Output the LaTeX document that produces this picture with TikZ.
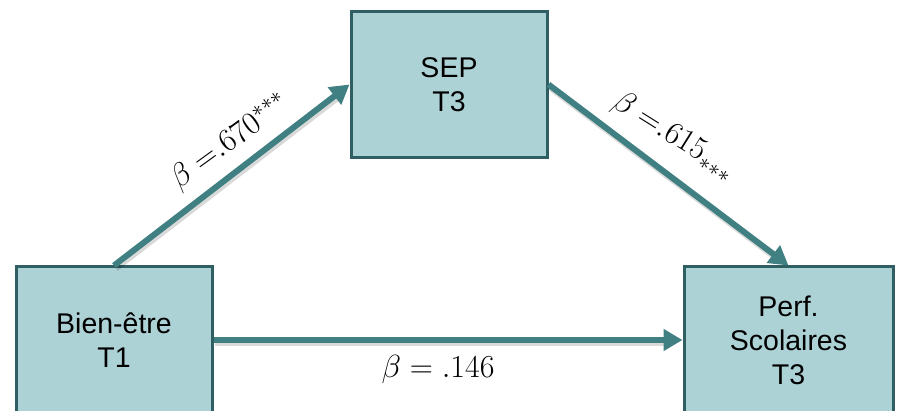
\RequirePackage{fix-cm}
\documentclass[tikz,border=0pt]{standalone}
\usepackage{fontspec}
\setmainfont{Liberation Sans}
\usetikzlibrary{arrows.meta}
\definecolor{boxfill}{RGB}{173,210,214}
\definecolor{boxline}{RGB}{47,95,99}
\definecolor{arrowcol}{RGB}{64,128,131}
\begin{document}
\begin{tikzpicture}[x=1pt,y=-1pt,
  varbox/.style={draw=boxline, line width=3pt, fill=boxfill, align=center,
    minimum width=196pt, minimum height=146pt, inner sep=0pt,
    font=\fontsize{28.5}{34}\selectfont},
  path/.style={draw=arrowcol, line width=6pt, -{Triangle[length=19pt,width=21pt]}},
  shadowline/.style={draw=black, opacity=0.15, line width=7pt, shorten >=14pt},
  coef/.style={font=\fontsize{32}{36}\selectfont, inner sep=0pt}]
\useasboundingbox (0,0) rectangle (897,411);
\begin{scope}
\clip (0,0) rectangle (897,411);
\node[varbox] (sep) at (449,84.5) {SEP\\T3};
\node[varbox] (bien) at (114,340) {Bien-être\\T1};
\node[varbox, minimum width=209pt] (perf) at (788.5,340) {Perf.\\Scolaires\\T3};
\begin{scope}[transform canvas={shift={(1.5pt,-2.5pt)}}]
\draw[shadowline] (bien.north) -- (sep.west);
\draw[shadowline] (sep.east) -- (perf.north);
\draw[shadowline] (bien.east) -- (perf.west);
\end{scope}
\draw[path] (bien.north) -- (sep.west);
\draw[path] (sep.east) -- (perf.north);
\draw[path] (bien.east) -- (perf.west);
\end{scope}
\node[coef, rotate=36] (c1) at (230,142) {$\beta\;{=}.670^{***}$};
\node[coef, rotate=-32] (c2) at (674,136) {$\beta\;{=}.615_{***}$};
\node[coef] (c3) at (438,370) {$\beta = .146$};
\end{tikzpicture}
\end{document}
